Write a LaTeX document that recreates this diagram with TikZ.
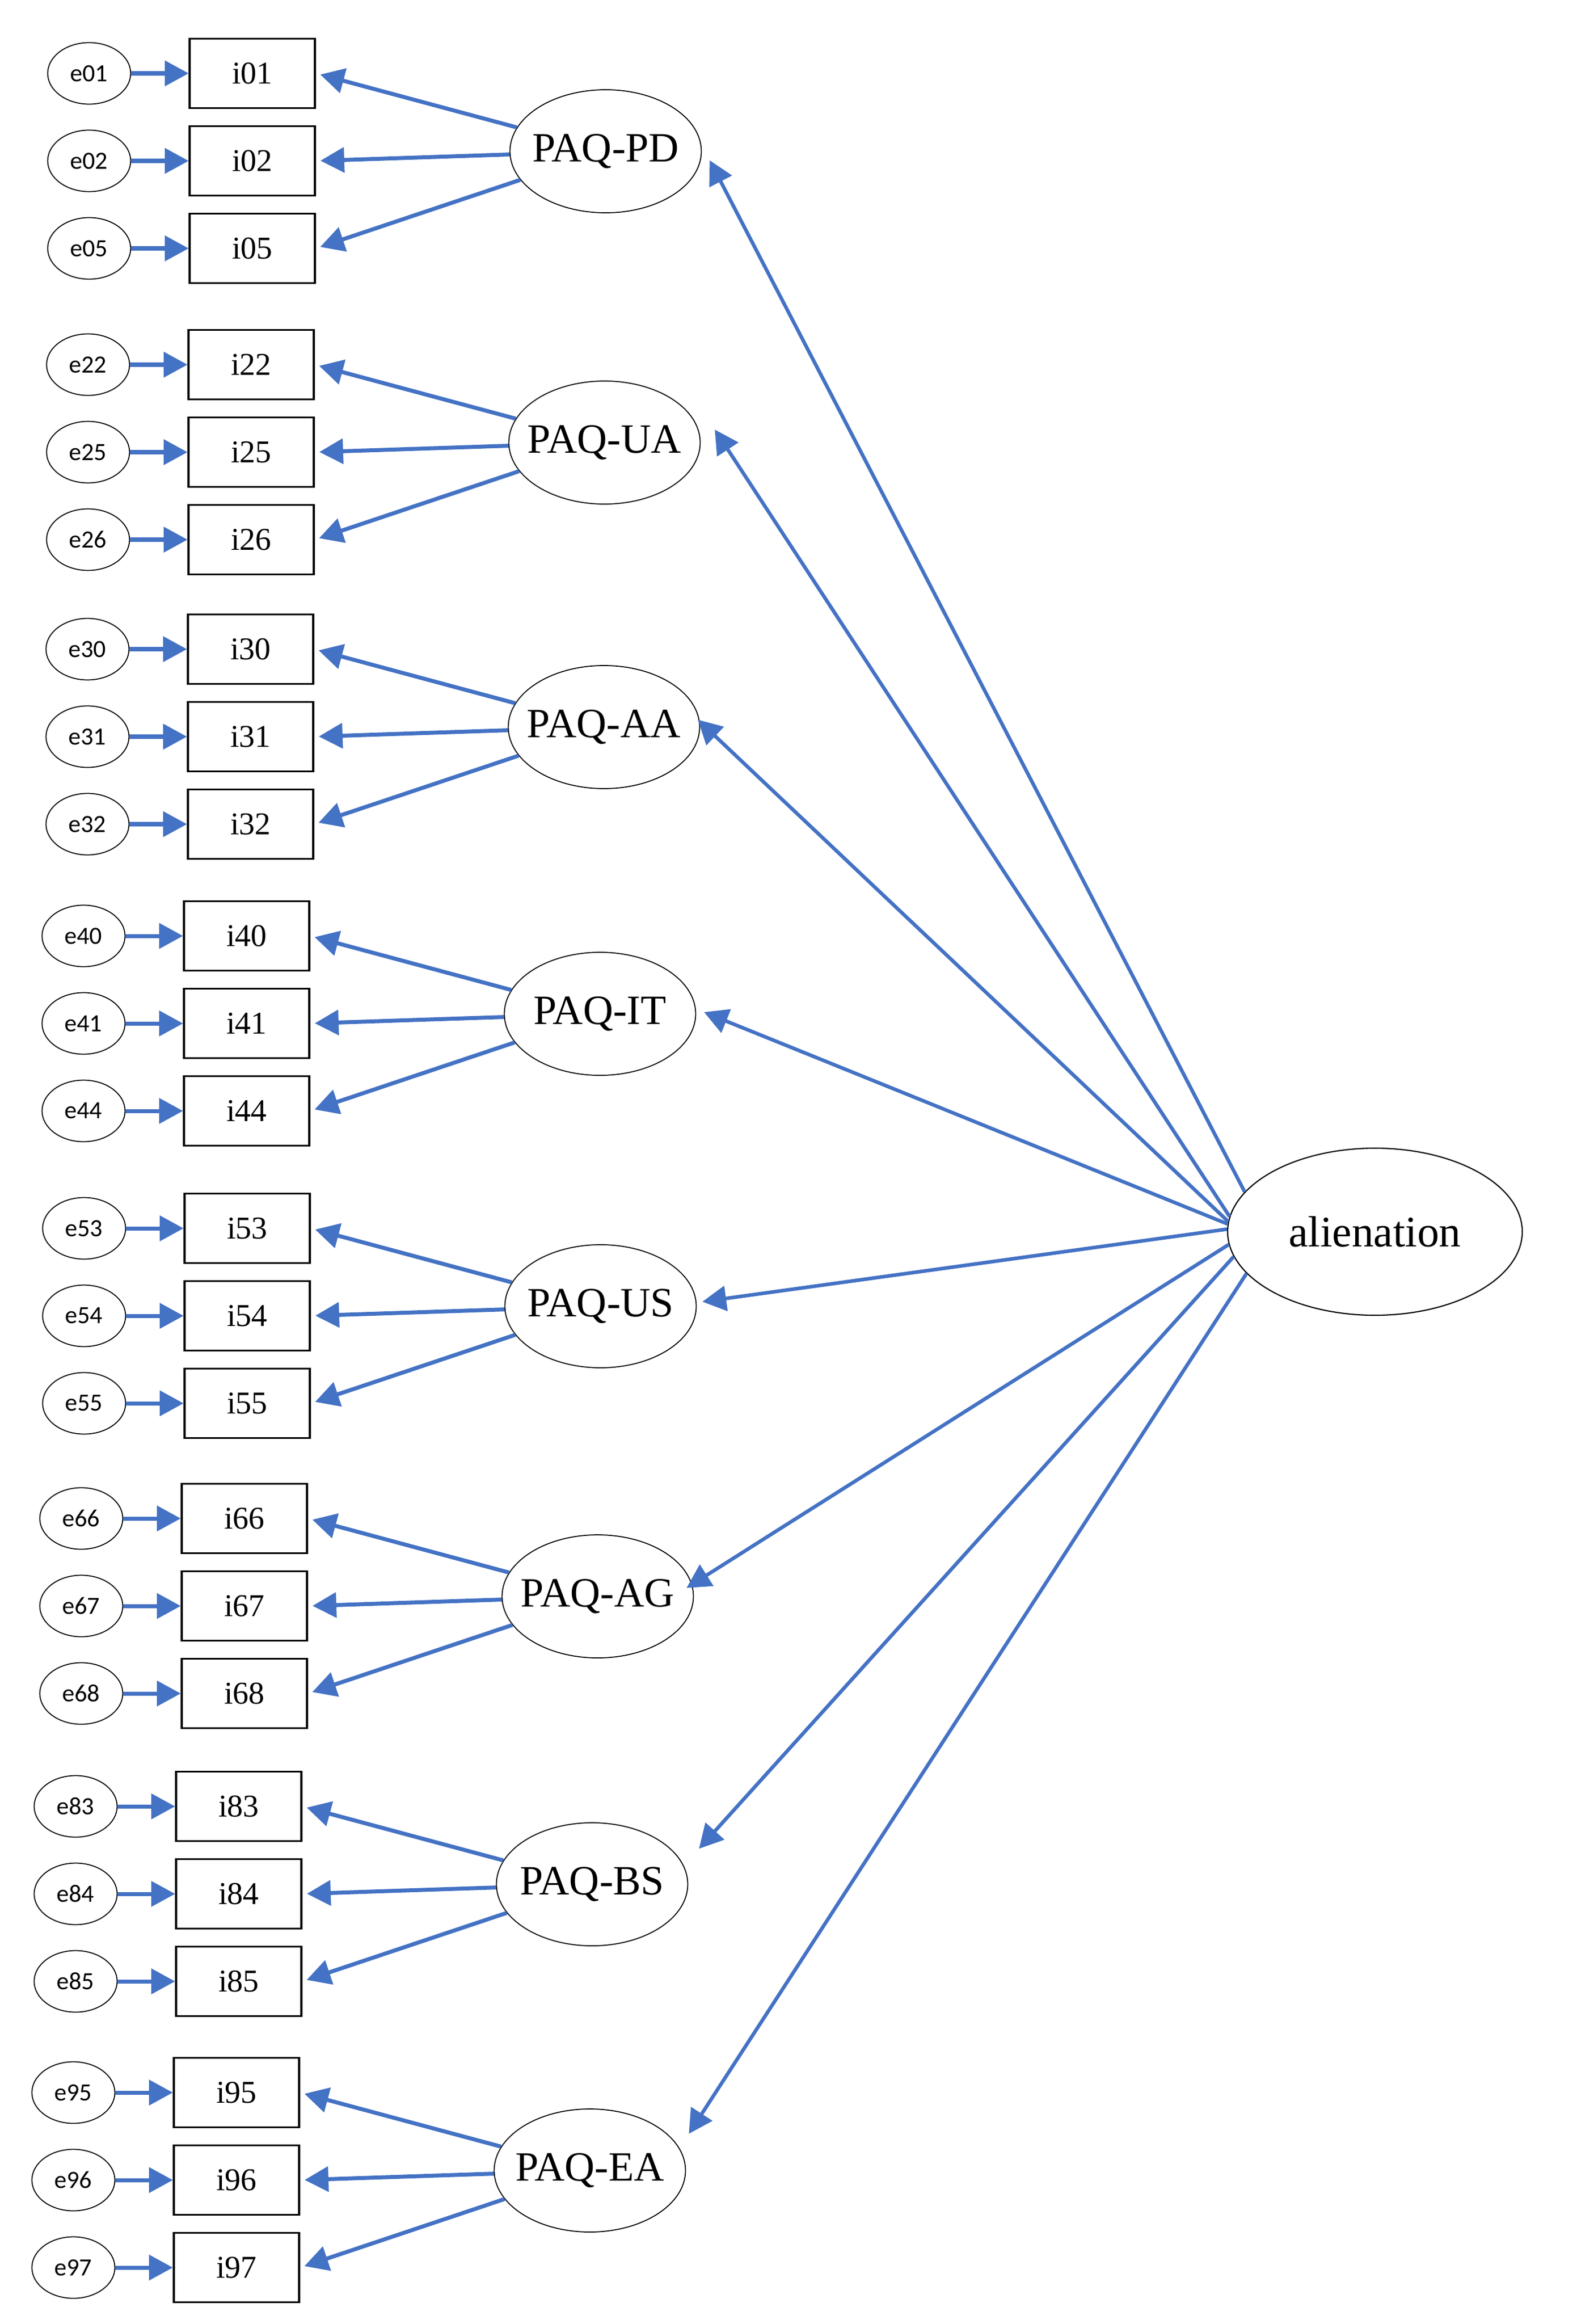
\documentclass[tikz,border=0pt]{standalone}
\usepackage{fontspec}
\setmainfont{Liberation Serif}
\newfontfamily\errfamily{Carlito}
\usepackage{tikz}
\usetikzlibrary{arrows.meta}
\usetikzlibrary{shapes.geometric}
\usetikzlibrary{trees}

\definecolor{amosblue}{RGB}{68,114,196}

\begin{document}
\begin{tikzpicture}[>={Triangle[length=12pt,width=12.5pt]},
        latent/.style={draw=black, ellipse, line width=0.5pt, minimum width=33.9mm, minimum height=21.8mm,
            inner sep=0pt, font=\fontsize{21}{25}\selectfont,
            execute at begin node={\hbox to 0pt\bgroup\hss}, execute at end node={\hss\egroup}},
        item/.style={draw=black, line width=1pt, minimum width=22.2mm, minimum height=12.3mm,
            inner sep=0pt, font=\fontsize{16}{19}\selectfont},
        err/.style={draw=black, ellipse, line width=0.5pt, minimum width=14.7mm, minimum height=10.9mm,
            inner sep=0pt, font=\errfamily\fontsize{12.5}{15}\selectfont},
        factor/.style={draw=amosblue, line width=1.8pt, ->},
        level 1/.style={grow via three points={one child at (-6.26,-0.17)
                and two children at (-6.26,0.605) and (-6.26,-0.945)},
            child anchor=east,
            edge from parent/.style={draw=amosblue, line width=2pt, ->, shorten >=0.8mm}},
        level 2/.style={grow=left, level distance=28.9mm,
            edge from parent/.style={draw=amosblue, line width=2pt, <-}}]
        \useasboundingbox (0,0) rectangle (27.93,-41.17);

        \node[latent] (pd) at (10.73,-2.68) {PAQ-PD}
            child { node[item] (i01) {i01} child { node[err] (e01) {e01} } }
            child { node[item] (i02) {i02} child { node[err] (e02) {e02} } }
            child { node[item] (i05) {i05} child { node[err] (e05) {e05} } };

        \node[latent] (ua) at (10.71,-7.84) {PAQ-UA}
            child { node[item] (i22) {i22} child { node[err] (e22) {e22} } }
            child { node[item] (i25) {i25} child { node[err] (e25) {e25} } }
            child { node[item] (i26) {i26} child { node[err] (e26) {e26} } };

        \node[latent] (aa) at (10.70,-12.88) {PAQ-AA}
            child { node[item] (i30) {i30} child { node[err] (e30) {e30} } }
            child { node[item] (i31) {i31} child { node[err] (e31) {e31} } }
            child { node[item] (i32) {i32} child { node[err] (e32) {e32} } };

        \node[latent] (it) at (10.63,-17.96) {PAQ-IT}
            child { node[item] (i40) {i40} child { node[err] (e40) {e40} } }
            child { node[item] (i41) {i41} child { node[err] (e41) {e41} } }
            child { node[item] (i44) {i44} child { node[err] (e44) {e44} } };

        \node[latent] (us) at (10.64,-23.14) {PAQ-US}
            child { node[item] (i53) {i53} child { node[err] (e53) {e53} } }
            child { node[item] (i54) {i54} child { node[err] (e54) {e54} } }
            child { node[item] (i55) {i55} child { node[err] (e55) {e55} } };

        \node[latent] (ag) at (10.59,-28.28) {PAQ-AG}
            child { node[item] (i66) {i66} child { node[err] (e66) {e66} } }
            child { node[item] (i67) {i67} child { node[err] (e67) {e67} } }
            child { node[item] (i68) {i68} child { node[err] (e68) {e68} } };

        \node[latent] (bs) at (10.49,-33.38) {PAQ-BS}
            child { node[item] (i83) {i83} child { node[err] (e83) {e83} } }
            child { node[item] (i84) {i84} child { node[err] (e84) {e84} } }
            child { node[item] (i85) {i85} child { node[err] (e85) {e85} } };

        \node[latent] (ea) at (10.45,-38.45) {PAQ-EA}
            child { node[item] (i95) {i95} child { node[err] (e95) {e95} } }
            child { node[item] (i96) {i96} child { node[err] (e96) {e96} } }
            child { node[item] (i97) {i97} child { node[err] (e97) {e97} } };

        \node[draw, ellipse, line width=0.6pt, minimum width=52.2mm, minimum height=29.6mm,
            font=\fontsize{22}{26}\selectfont] (alien) at (24.36,-21.82) {alienation};

        \draw[factor] (alien.163) -- ([shift={(0.14,-0.16)}]pd.east);
        \draw[factor] (alien.174.5) -- ([shift={(0.25,0.23)}]ua.east);
        \draw[factor] (alien.176.6) -- ([shift={(-0.04,0.13)}]aa.east);
        \draw[factor] (alien.177) -- ([shift={(0.14,0.03)}]it.east);
        \draw[factor] (alien.179.4) -- ([shift={(0.10,0.08)}]us.east);
        \draw[factor] (alien.185) -- ([shift={(-0.13,0.15)}]ag.east);
        \draw[factor] (alien.190.5) -- ([shift={(0.19,0.63)}]bs.east);
        \draw[factor] (alien.198.6) -- ([shift={(0.05,0.65)}]ea.east);
    \end{tikzpicture}
\end{document}
